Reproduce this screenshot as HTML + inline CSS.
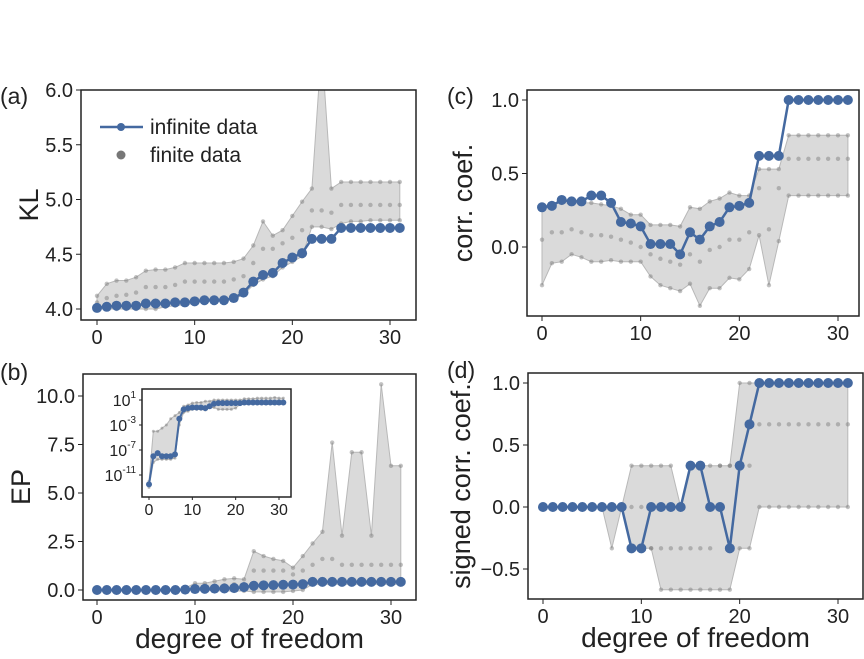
<!DOCTYPE html>
<html><head><meta charset="utf-8"><style>
body{margin:0;background:#fff;}
svg{display:block;font-family:"Liberation Sans","DejaVu Sans",sans-serif;}
</style></head><body>
<svg id="fig" width="864" height="659" viewBox="0 0 864 659" xmlns="http://www.w3.org/2000/svg"></svg>
<script>
const xs = Array.from({length:32},(_, i)=>i);
// (a) KL
const klInf=[4.01,4.02,4.03,4.03,4.03,4.05,4.05,4.05,4.06,4.06,4.07,4.08,4.08,4.08,4.10,4.15,4.25,4.31,4.33,4.42,4.47,4.51,4.64,4.64,4.64,4.74,4.74,4.74,4.74,4.74,4.74,4.74];
const klUp=[4.12,4.23,4.26,4.26,4.29,4.35,4.36,4.36,4.38,4.42,4.42,4.42,4.42,4.42,4.43,4.46,4.58,4.80,4.67,4.72,4.85,4.98,5.10,6.4,5.10,5.16,5.16,5.16,5.16,5.16,5.16,5.16];
const klLo=[4.0,4.0,4.0,4.0,4.0,4.0,4.0,4.02,4.03,4.04,4.05,4.07,4.08,4.08,4.09,4.13,4.22,4.27,4.30,4.38,4.43,4.48,4.75,4.75,4.73,4.78,4.80,4.80,4.81,4.81,4.81,4.81];
const klMid=[4.06,4.1,4.12,4.13,4.15,4.2,4.2,4.2,4.22,4.25,4.25,4.25,4.25,4.25,4.27,4.3,4.42,4.55,4.55,4.6,4.65,4.72,4.9,4.9,4.88,4.95,4.95,4.95,4.95,4.95,4.95,4.95];
// (b) EP
const epInf=[0,0,0,0,0,0,0,0,0,0.02,0.05,0.06,0.07,0.08,0.1,0.15,0.22,0.24,0.25,0.27,0.28,0.3,0.42,0.42,0.42,0.42,0.42,0.42,0.42,0.42,0.42,0.42];
const epUp=[0,0,0,0,0,0,0,0,0.02,0.1,0.35,0.35,0.45,0.55,0.6,0.55,2.0,1.75,1.6,1.5,1.15,1.75,2.4,3.0,7.6,2.8,7.1,7.1,2.8,10.6,6.4,6.4];
const epLo=[0,0,0,0,0,0,0,0,0,0,0,-0.02,-0.03,-0.05,-0.05,-0.05,-0.1,-0.1,-0.1,-0.1,-0.05,0,0.3,0.3,0.3,0.3,0.3,0.3,0.3,0.3,0.3,0.3];
const epMid=[0,0,0,0,0,0,0,0,0,0.05,0.15,0.15,0.2,0.25,0.3,0.3,1.0,1.0,1.0,1.0,0.8,1.0,1.3,1.6,1.6,1.3,1.3,1.3,1.3,1.3,1.3,1.3];
// (b) inset, log10 EP
const logInf=[-12.5,-8,-7.5,-8,-8,-8,-7.7,-2,-0.5,-0.3,-0.2,-0.2,-0.2,-0.3,0,0.4,0.5,0.5,0.5,0.5,0.5,0.5,0.6,0.6,0.6,0.6,0.6,0.6,0.6,0.6,0.6,0.6];
const logUp=[-12,-4,-4,-3.5,-3,-2,-1.5,-1,0,0.2,0.5,0.6,0.6,0.8,0.8,1,1,1,1,1,1,1,1.2,1.2,1.2,1.3,1.3,1.3,1.3,1.4,1.3,1.3];
const logLo=[-13,-9,-8.5,-8.5,-8.5,-8.5,-8.3,-3,-1,-0.8,-0.5,-0.5,-0.5,-0.6,-0.2,-0.2,-0.5,-0.5,-0.5,-0.5,-0.3,0.3,0.4,0.4,0.4,0.4,0.4,0.4,0.4,0.4,0.4,0.4];
// (c) corr
const ccInf=[0.27,0.28,0.32,0.31,0.31,0.35,0.35,0.30,0.17,0.16,0.14,0.02,0.02,0.02,-0.05,0.10,0.05,0.14,0.17,0.27,0.28,0.30,0.62,0.62,0.62,1,1,1,1,1,1,1];
const ccUp=[0.27,0.30,0.30,0.30,0.30,0.30,0.29,0.28,0.26,0.22,0.22,0.15,0.15,0.15,0.14,0.27,0.26,0.31,0.33,0.37,0.35,0.35,0.53,0.53,0.53,0.76,0.76,0.76,0.76,0.76,0.76,0.76];
const ccLo=[-0.26,-0.11,-0.10,-0.05,-0.07,-0.10,-0.10,-0.09,-0.10,-0.10,-0.10,-0.20,-0.26,-0.28,-0.30,-0.25,-0.40,-0.28,-0.28,-0.21,-0.22,-0.15,0.08,-0.26,0.04,0.35,0.35,0.35,0.35,0.35,0.35,0.35];
const ccMid=[0.05,0.1,0.1,0.12,0.1,0.08,0.08,0.07,0.05,0.03,0,-0.05,-0.08,-0.1,-0.12,-0.05,-0.1,-0.02,0,0.05,0.05,0.1,0.4,0.12,0.4,0.6,0.6,0.6,0.6,0.6,0.6,0.6];
// (d) signed corr
const t=1/3;
const scInf=[0,0,0,0,0,0,0,0,0,-t,-t,0,0,0,0,t,t,0,0,-t,t,2*t,1,1,1,1,1,1,1,1,1,1];
const scUp=[0,0,0,0,0,0,0,0,0,t,t,t,t,t,0,t,t,t,t,t,1,1,1,1,1,1,1,1,1,1,1,1];
const scLo=[0,0,0,0,0,0,0,-t,0,-t,-t,-t,-2*t,-2*t,-2*t,-2*t,-2*t,-2*t,-2*t,-2*t,-t,-t,0,0,0,0,0,0,0,0,0,0];
const scMid=[0,0,0,0,0,0,0,0,0,0,0,-t,-t,-t,-t,-t,-t,-t,t,t,t,t,2*t,2*t,2*t,2*t,2*t,2*t,2*t,2*t,2*t,2*t];

const svg=document.getElementById('fig');
const NS='http://www.w3.org/2000/svg';
function mk(tag,attrs,parent,name){const e=document.createElementNS(NS,tag);for(const k in attrs)e.setAttribute(k,attrs[k]);


(parent||svg).appendChild(e);return e;}
function txt(x,y,s,size,anchor,parent,name,extra){const e=mk('text',Object.assign({x:x,y:y,'font-size':size,'text-anchor':anchor||'middle',fill:'#222'},extra||{}),parent,name);e.textContent=s;return e;}

function panel(o){
  const g=mk('g',{},svg,o.name);
  const X=v=>o.x0+(v-0)*(o.x30-o.x0)/30;
  const Y=v=>o.yA+(v-o.vA)*(o.yB-o.yA)/(o.vB-o.vA);
  const cid='clip-'+o.name;
  const cp=mk('clipPath',{id:cid},g,'clip');mk('rect',{x:o.L,y:o.T,width:o.R-o.L,height:o.B-o.T},cp,'clip-rect');
  const pg=mk('g',{'clip-path':'url(#'+cid+')'},g,'plot-area');
  let d=o.up.map((v,i)=>(i?'L':'M')+X(xs[i]).toFixed(1)+','+Y(v).toFixed(1)).join('');
  for(let i=o.lo.length-1;i>=0;i--)d+='L'+X(xs[i]).toFixed(1)+','+Y(o.lo[i]).toFixed(1);
  mk('path',{d:d+'Z',fill:'#dadada',stroke:'#b8b8b8','stroke-width':1},pg,'finite-data-band');
  [o.up,o.lo].concat(o.mids||[]).forEach(arr=>arr.forEach((v,i)=>mk('circle',{cx:X(xs[i]),cy:Y(v),r:o.dr||2.2,fill:'#777','fill-opacity':0.45},pg,'finite-data-point')));
  mk('polyline',{points:o.inf.map((v,i)=>X(xs[i])+','+Y(v)).join(' '),fill:'none',stroke:'#4469a0','stroke-width':o.lw||2.5},pg,'infinite-data-line');
  o.inf.forEach((v,i)=>mk('circle',{cx:X(xs[i]),cy:Y(v),r:o.mr||5,fill:'#4469a0'},pg,'infinite-data-point'));
  mk('rect',{x:o.L,y:o.T,width:o.R-o.L,height:o.B-o.T,fill:'none',stroke:'#222','stroke-width':1.5},g,'axes-frame');
  const fs=o.fs||20, tl=o.tl||5;
  o.xt.forEach(v=>{mk('line',{x1:X(v),x2:X(v),y1:o.B,y2:o.B+tl,stroke:'#222'},g,'x-tick');txt(X(v),o.B+tl+fs*0.95,String(v),fs,'middle',g,'x-tick-label');});
  o.yt.forEach((v,k)=>{mk('line',{x1:o.L-tl,x2:o.L,y1:Y(v),y2:Y(v),stroke:'#222'},g,'y-tick');
    if(o.logLabels){const e=txt(o.L-tl-3,Y(v)+6,'10',fs,'end',g,'y-tick-label');const s=document.createElementNS(NS,'tspan');s.setAttribute('dy',-8);s.setAttribute('font-size',fs*0.62);s.textContent=o.logLabels[k];e.appendChild(s);}
    else txt(o.L-tl-3,Y(v)+fs*0.36,o.yl[k],fs,'end',g,'y-tick-label');});
  if(o.ylabel)txt(0,0,o.ylabel,27,'middle',g,'y-axis-title',{transform:'translate('+o.ylx+','+((o.T+o.B)/2)+') rotate(-90)'});
  if(o.xlabel)txt((o.L+o.R)/2,o.B+48,o.xlabel,28,'middle',g,'x-axis-title');
  if(o.letter)txt(o.lx,o.ly,o.letter,23,'start',g,'panel-label');
}

panel({name:'panel-a-kl',L:81,R:416,T:90,B:320,x0:97,x30:390,vA:6,yA:90,vB:4,yB:309,inf:klInf,up:klUp,lo:klLo,mids:[klMid],
  xt:[0,10,20,30],yt:[4,4.5,5,5.5,6],yl:['4.0','4.5','5.0','5.5','6.0'],ylabel:'KL',ylx:38,letter:'(a)',lx:0,ly:104});
panel({name:'panel-c-corr',L:527,R:859,T:90,B:316,x0:542,x30:838,vA:1,yA:100,vB:0,yB:247,inf:ccInf,up:ccUp,lo:ccLo,mids:[ccMid],
  xt:[0,10,20,30],yt:[0,0.5,1],yl:['0.0','0.5','1.0'],ylabel:'corr. coef.',ylx:472,letter:'(c)',lx:447,ly:104});
panel({name:'panel-b-ep',L:83,R:416,T:374,B:600,x0:97,x30:391,vA:10,yA:396,vB:0,yB:590,inf:epInf,up:epUp,lo:epLo,mids:[epMid],
  xt:[0,10,20,30],yt:[0,2.5,5,7.5,10],yl:['0.0','2.5','5.0','7.5','10.0'],ylabel:'EP',ylx:30,xlabel:'degree of freedom',letter:'(b)',lx:0,ly:380});
panel({name:'panel-d-signed-corr',L:528,R:863,T:373,B:599,x0:543,x30:838,vA:1,yA:383,vB:0,yB:507,inf:scInf,up:scUp,lo:scLo,mids:[scMid],
  xt:[0,10,20,30],yt:[-0.5,0,0.5,1],yl:['\u22120.5','0.0','0.5','1.0'],ylabel:'signed corr. coef.',ylx:470,xlabel:'degree of freedom',letter:'(d)',lx:447,ly:378});
mk('rect',{x:142,y:389,width:149,height:108,fill:'#fff'},svg,'inset-background');
panel({name:'panel-b-inset-log',L:142,R:291,T:389,B:497,x0:149,x30:279,vA:1,yA:400,vB:-11,yB:475,inf:logInf,up:logUp,lo:logLo,
  xt:[0,10,20,30],yt:[1,-3,-7,-11],logLabels:['1','-3','-7','-11'],fs:16,tl:3,mr:3,lw:2,dr:1.5});
const lg=mk('g',{},svg,'legend');
mk('line',{x1:100,x2:143,y1:127,y2:127,stroke:'#4469a0','stroke-width':2.5},lg,'legend-line-infinite');
mk('circle',{cx:121,cy:127,r:4,fill:'#4469a0'},lg,'legend-marker-infinite');
txt(150,134,'infinite data',21,'start',lg,'legend-entry-infinite');
mk('circle',{cx:121,cy:155,r:4.5,fill:'#777'},lg,'legend-marker-finite');
txt(150,162,'finite data',21,'start',lg,'legend-entry-finite');
</script>
</body></html>
